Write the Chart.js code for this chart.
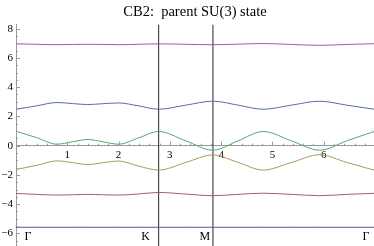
<!DOCTYPE html>
<html>
<head>
<meta charset="utf-8">
<script src="https://cdn.jsdelivr.net/npm/chart.js@4/dist/chart.umd.min.js"></script>
<style>
  html, body { margin: 0; padding: 0; background: #fff; }
</style>
</head>
<body>
<canvas id="bands" width="374" height="246"></canvas>
<script>
// path coordinate along Γ-K-M-Γ
const kPath = [0, 0.4, 0.8, 1.1, 1.4, 1.7, 2.0, 2.39, 2.78, 3.31, 3.84, 4.33, 4.82, 5.37, 5.92, 6.45, 6.98];

// bands, lowest to highest
const band1 = [-5.58, -5.58, -5.58, -5.58, -5.58, -5.58, -5.58, -5.58, -5.58, -5.58, -5.58, -5.58, -5.58, -5.58, -5.58, -5.58, -5.58];
const band2 = [-3.27, -3.33, -3.38, -3.36, -3.33, -3.36, -3.38, -3.3, -3.2, -3.31, -3.42, -3.33, -3.25, -3.33, -3.42, -3.33, -3.26];
const band3 = [-1.63, -1.35, -1.04, -1.16, -1.29, -1.16, -1.05, -1.4, -1.67, -1.15, -0.63, -1.15, -1.67, -1.15, -0.62, -1.15, -1.67];
const band4 = [0.99, 0.55, 0.1, 0.26, 0.42, 0.26, 0.1, 0.53, 0.97, 0.33, -0.31, 0.33, 0.97, 0.33, -0.31, 0.33, 0.97];
const band5 = [2.49, 2.72, 2.95, 2.88, 2.81, 2.87, 2.92, 2.72, 2.49, 2.77, 3.04, 2.77, 2.49, 2.77, 3.04, 2.77, 2.49];
const band6 = [6.96, 6.93, 6.9, 6.92, 6.93, 6.92, 6.9, 6.93, 6.96, 6.93, 6.9, 6.94, 6.98, 6.92, 6.86, 6.92, 6.97];

const bands = [band1, band2, band3, band4, band5, band6];
const bandColors = ["#5553a8", "#a85585", "#a89a55", "#55a86b", "#556fa8", "#a855a0"];

// high symmetry points
const symPos = [0, 2.78, 3.84, 6.98];
const symLabels = ["Γ", "K", "M", "Γ"];
const symShift = [12, -13, -8, -8];

const xTicks = [1, 2, 3, 4, 5, 6];
const yTicks = [-6, -4, -2, 0, 2, 4, 6, 8];
const xMin = 0, xMax = 6.98;
const yMin = -6.86, yMax = 8.29;

const serif = '"Liberation Serif", "DejaVu Serif", serif';

const datasets = bands.map((b, i) => ({
  data: kPath.map((x, j) => ({ x: x, y: b[j] })),
  borderColor: bandColors[i],
  borderWidth: 1,
  pointRadius: 0,
  showLine: true,
  cubicInterpolationMode: "monotone"
}));

// vertical lines at K and M
[symPos[1], symPos[2]].forEach(p => {
  datasets.push({
    data: [{ x: p, y: yMin }, { x: p, y: yMax }],
    borderColor: "#4a4a4a",
    borderWidth: 1.2,
    pointRadius: 0,
    showLine: true
  });
});

// inward tick marks (major + minor) and the Γ K M labels
const axisMarks = {
  id: "axisMarks",
  afterDraw(chart) {
    const { ctx, chartArea: a, scales: { x, y } } = chart;
    const y0 = y.getPixelForValue(0);
    ctx.save();
    ctx.strokeStyle = "#999";
    ctx.lineWidth = 1;
    ctx.beginPath();
    for (let i = 1; i * 0.2 < xMax; i++) {
      const px = Math.round(x.getPixelForValue(i * 0.2)) + 0.5;
      const len = i % 5 === 0 ? 4 : 2;
      ctx.moveTo(px, y0);
      ctx.lineTo(px, y0 - len);
    }
    for (let i = -13; i * 0.5 <= yMax; i++) {
      const py = Math.round(y.getPixelForValue(i * 0.5)) + 0.5;
      const len = i % 4 === 0 ? 4 : 2;
      ctx.moveTo(a.left, py);
      ctx.lineTo(a.left + len, py);
    }
    ctx.stroke();

    ctx.fillStyle = "#000";
    ctx.font = "12px " + serif;
    ctx.textAlign = "center";
    ctx.textBaseline = "middle";
    symLabels.forEach((t, i) => {
      ctx.fillText(t, x.getPixelForValue(symPos[i]) + symShift[i], 237);
    });
    ctx.restore();
  }
};

// keep the axes from reserving room at the canvas edges
const noPad = s => { s.paddingTop = 0; s.paddingBottom = 0; s.paddingLeft = 0; s.paddingRight = 0; };

new Chart(document.getElementById("bands"), {
  type: "scatter",
  data: { datasets },
  options: {
    responsive: false,
    animation: false,
    layout: { padding: 0 },
    plugins: {
      legend: { display: false },
      tooltip: { enabled: false },
      title: {
        display: true,
        text: "CB2:  parent SU(3) state",
        color: "#000",
        fullSize: false,
        font: { family: serif, size: 14.5, weight: "normal" },
        padding: { top: 3, bottom: 4 }
      }
    },
    scales: {
      x: {
        type: "linear",
        min: xMin,
        max: xMax,
        position: { y: 0 },
        afterBuildTicks: s => { s.ticks = xTicks.map(v => ({ value: v })); },
        afterFit: s => { s.height = 0; noPad(s); },
        grid: { display: false, drawTicks: false },
        border: { display: true, color: "#999", width: 1 },
        ticks: {
          color: "#000",
          font: { family: serif, size: 11 },
          padding: 3,
          maxRotation: 0,
          autoSkip: false
        }
      },
      y: {
        type: "linear",
        min: yMin,
        max: yMax,
        position: "left",
        afterBuildTicks: s => { s.ticks = yTicks.map(v => ({ value: v })); },
        afterFit: s => { s.width = 16; noPad(s); },
        grid: { display: false, drawTicks: false },
        border: { display: true, color: "#999", width: 1 },
        ticks: {
          color: "#000",
          font: { family: serif, size: 11 },
          padding: 3,
          autoSkip: false,
          callback: v => (v < 0 ? "\u2212" + (-v) : String(v))
        }
      }
    }
  },
  plugins: [axisMarks]
});
</script>
</body>
</html>
